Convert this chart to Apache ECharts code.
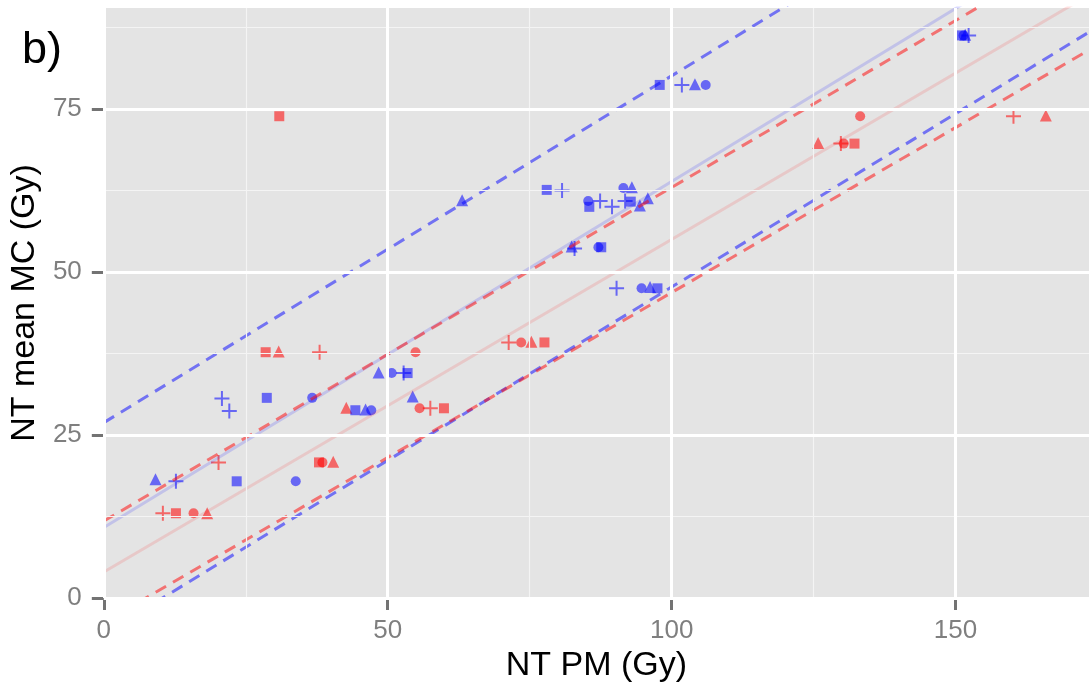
<!DOCTYPE html>
<html><head><meta charset="utf-8">
<script src="https://cdn.jsdelivr.net/npm/echarts@6/dist/echarts.min.js"></script>
<style>html,body{margin:0;padding:0;background:#fff}#c{width:1089px;height:690px}</style>
</head><body><div id="c"></div>
<script>
// ---- data (x = NT PM, y = NT mean MC) ----
const xTicks = [0, 50, 100, 150];
const yTicks = [0, 25, 50, 75];
const xMinor = [25, 75, 125];
const yMinor = [12.5, 37.5, 62.5, 87.5];

const redCircle = [[15.8,13.0],[38.5,20.8],[54.9,37.7],[55.6,29.1],[73.5,39.2],[130.3,69.7],[133.2,73.9]];
const redSquare = [[12.7,13.0],[37.9,20.8],[28.5,37.7],[59.9,29.1],[77.6,39.2],[132.2,69.7],[30.9,73.9]];
const redTriangle = [[18.2,13.0],[40.4,20.9],[30.8,37.8],[42.7,29.2],[75.3,39.3],[125.8,69.8],[165.9,74.0]];
const redPlus = [[10.4,13.0],[20.2,20.8],[38.0,37.7],[57.5,29.1],[71.3,39.2],[129.8,69.7],[160.2,73.9]];

const blueCircle = [[33.8,17.9],[36.7,30.7],[47.1,28.8],[50.7,34.5],[94.7,47.5],[87.1,53.8],[85.3,60.9],[91.5,62.9],[106.0,78.7],[151.4,86.3]];
const blueSquare = [[23.4,17.9],[28.7,30.7],[44.3,28.8],[53.5,34.5],[97.5,47.5],[87.6,53.8],[92.8,60.8],[85.5,60.0],[78.0,62.6],[97.9,78.7],[151.0,86.3]];
const blueTriangle = [[9.1,18.2],[54.4,30.9],[46.1,28.9],[48.4,34.6],[96.2,47.7],[82.4,53.9],[63.1,61.0],[95.8,61.3],[94.4,60.2],[93.0,63.0],[104.1,78.8],[151.7,86.4]];
const bluePlus = [[12.7,17.9],[20.8,30.6],[22.1,28.7],[52.8,34.5],[90.3,47.5],[82.9,53.6],[87.4,60.9],[91.8,60.9],[89.5,60.0],[80.7,62.5],[101.8,78.7],[152.3,86.3]];

const blueFit = [[0,10.8],[173.5,102.9]];
const redFit = [[0,4.0],[173.5,92.5]];
const blueUpper = [[0,26.9],[173.5,119.2]];
const blueLower = [[0,-5.5],[173.5,86.8]];
const redUpper = [[0,11.8],[173.5,100.6]];
const redLower = [[0,-3.75],[173.5,84.05]];

// ---- chart ----
const FONT = 'Liberation Sans';
const RED = 'rgba(255,0,0,0.55)';
const BLUE = 'rgba(0,0,255,0.55)';
const PLUS = 'path://M6.5,0H8.5V6.5H15V8.5H8.5V15H6.5V8.5H0V6.5H6.5Z';

function pts(name, data, color, symbol, size) {
  return {name, type:'scatter', data, symbol, symbolSize:size, z:3, silent:true,
    itemStyle:{color, opacity:1}, animation:false};
}
function line(name, data, color, width, dashed) {
  return {name, type:'line', data, showSymbol:false, symbol:'none', z:4, silent:true, animation:false,
    lineStyle:{color, width, type: dashed ? [12,8] : 'solid'}};
}
const gridLines = [];
xMinor.forEach(v => gridLines.push({xAxis:v, lineStyle:{color:'#F4F4F4', width:1.2, type:'solid'}}));
yMinor.forEach(v => gridLines.push({yAxis:v, lineStyle:{color:'#F4F4F4', width:1.2, type:'solid'}}));
xTicks.forEach(v => gridLines.push({xAxis:v, lineStyle:{color:'#FFFFFF', width:3, type:'solid'}}));
yTicks.forEach(v => gridLines.push({yAxis:v, lineStyle:{color:'#FFFFFF', width:3, type:'solid'}}));

const chart = echarts.init(document.getElementById('c'), null, {renderer:'canvas'});
chart.setOption({
  animation:false,
  backgroundColor:'#FFFFFF',
  textStyle:{fontFamily:FONT},
  grid:{left:101, right:0, top:8, bottom:92, show:true, backgroundColor:'#E4E4E4', borderWidth:0},
  graphic:[{type:'text', left:22, top:28, style:{text:'b)', font:'45px "Liberation Sans"', fill:'#000'}}],
  xAxis:{type:'value', min:0, max:173.5,
    name:'NT PM (Gy)', nameLocation:'middle', nameGap:50,
    nameTextStyle:{fontSize:34, color:'#000', fontFamily:FONT},
    axisLine:{show:false},
    axisTick:{show:true, length:12, customValues:xTicks, lineStyle:{color:'#737373', width:3}},
    axisLabel:{customValues:xTicks, fontSize:26, color:'#7F7F7F', margin:20, fontFamily:FONT},
    splitLine:{show:false}},
  yAxis:{type:'value', min:0, max:90.5,
    name:'NT mean MC (Gy)', nameLocation:'middle', nameGap:58,
    nameTextStyle:{fontSize:34, color:'#000', fontFamily:FONT},
    axisLine:{show:false},
    axisTick:{show:true, length:12, customValues:yTicks, lineStyle:{color:'#737373', width:3}},
    axisLabel:{customValues:yTicks, fontSize:26, color:'#7F7F7F', margin:22, fontFamily:FONT},
    splitLine:{show:false}},
  series:[
    {name:'grid', type:'line', data:[], z:1, silent:true,
      markLine:{silent:true, symbol:'none', animation:false, label:{show:false}, data:gridLines}},
    pts('redCircle', redCircle, RED, 'circle', 10),
    pts('redSquare', redSquare, RED, 'rect', 10),
    pts('redTriangle', redTriangle, RED, 'triangle', 12),
    pts('redPlus', redPlus, RED, PLUS, 15),
    pts('blueCircle', blueCircle, BLUE, 'circle', 10),
    pts('blueSquare', blueSquare, BLUE, 'rect', 10),
    pts('blueTriangle', blueTriangle, BLUE, 'triangle', 12),
    pts('bluePlus', bluePlus, BLUE, PLUS, 15),
    line('blueFit', blueFit, 'rgba(0,0,255,0.15)', 3, false),
    line('redFit', redFit, 'rgba(255,0,0,0.12)', 3, false),
    line('blueUpper', blueUpper, 'rgba(0,0,255,0.5)', 3, true),
    line('blueLower', blueLower, 'rgba(0,0,255,0.5)', 3, true),
    line('redUpper', redUpper, 'rgba(255,0,0,0.5)', 3, true),
    line('redLower', redLower, 'rgba(255,0,0,0.5)', 3, true)
  ]
});
</script></body></html>
